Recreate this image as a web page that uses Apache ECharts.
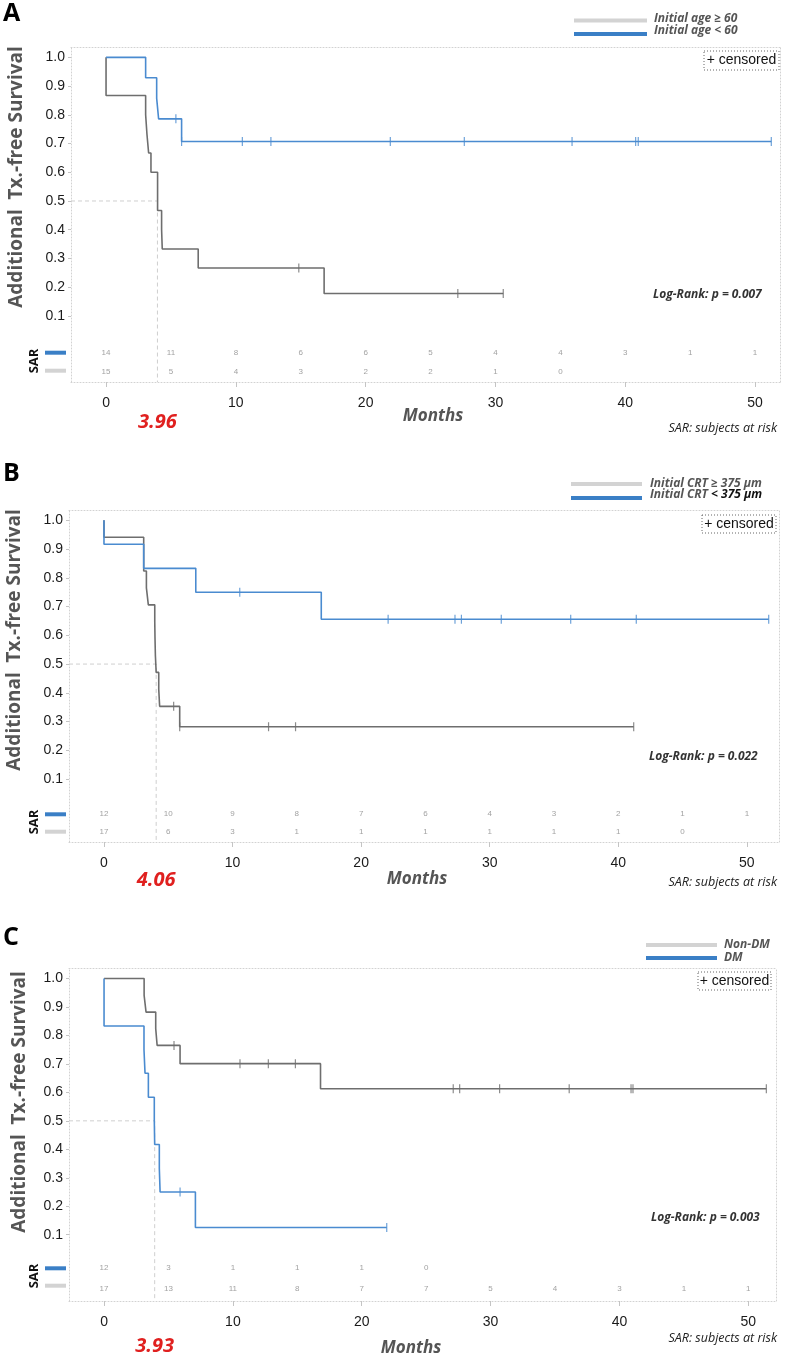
<!DOCTYPE html>
<html><head><meta charset="utf-8">
<script src="https://cdn.jsdelivr.net/npm/echarts@6/dist/echarts.min.js"></script>
<style>html,body{margin:0;padding:0;background:#fff}#c{width:787px;height:1360px}</style>
</head><body><div id="c"></div>
<script>
// ---------- shared ----------
const sarTimes = [0,5,10,15,20,25,30,35,40,45,50];
const xTickLabels = [0,10,20,30,40,50];
const yTickLabels = [0.1,0.2,0.3,0.4,0.5,0.6,0.7,0.8,0.9,1.0];

// ---------- Panel A ----------
const A_names = ['Initial age \u2265 60', 'Initial age < 60'];
const A_grayT = [0,0,3.05,3.15,3.28,3.46,3.97,4.28,4.33,7.1,16.8,30.6];
const A_grayS = [1,0.867,0.8,0.733,0.667,0.6,0.467,0.4,0.333,0.267,0.178,0.178];
const A_grayCens = [14.85,27.1,30.6];
const A_blueT = [0,3.05,3.9,4.05,5.82,51.25];
const A_blueS = [1,0.929,0.857,0.786,0.707,0.707];
const A_blueCens = [5.38,5.82,10.5,12.7,21.9,27.6,35.9,40.8,41.0,51.25];
const A_sarBlue = [14,11,8,6,6,5,4,4,3,1,1];
const A_sarGray = [15,5,4,3,2,2,1,0];
const A_median = 3.96;
const A_p = 'Log-Rank: p = 0.007';

// ---------- Panel B ----------
const B_names = ['Initial CRT \u2265 375 \u00b5m', 'Initial CRT < 375 \u00b5m'];
const B_grayT = [0,0,3.09,3.3,3.45,3.95,3.97,4.0,4.06,4.26,4.33,5.89,41.2];
const B_grayS = [1,0.941,0.824,0.765,0.706,0.647,0.588,0.529,0.471,0.412,0.353,0.282,0.282];
const B_grayCens = [5.42,5.89,12.8,14.9,41.2];
const B_blueT = [0,0,3.09,7.14,16.9,51.7];
const B_blueS = [1,0.917,0.833,0.75,0.656,0.656];
const B_blueCens = [10.56,22.1,27.3,27.8,30.9,36.3,41.4,51.7];
const B_sarBlue = [12,10,9,8,7,6,4,3,2,1,1];
const B_sarGray = [17,6,3,1,1,1,1,1,1,0];
const B_median = 4.06;
const B_p = 'Log-Rank: p = 0.022';

// ---------- Panel C ----------
const C_names = ['Non-DM', 'DM'];
const C_grayT = [0,3.11,3.26,4.01,4.12,5.9,16.8,51.4];
const C_grayS = [1,0.941,0.882,0.824,0.765,0.701,0.613,0.613];
const C_grayCens = [5.43,10.55,12.75,14.85,27.1,27.6,30.7,36.1,40.9,41.05,51.4];
const C_blueT = [0,0,3.1,3.18,3.44,3.9,3.93,4.29,4.35,7.09,21.94];
const C_blueS = [1,0.833,0.75,0.667,0.583,0.5,0.417,0.333,0.25,0.125,0.125];
const C_blueCens = [5.9,21.94];
const C_sarBlue = [12,3,1,1,1,0];
const C_sarGray = [17,13,11,8,7,7,5,4,3,1,1];
const C_median = 3.93;
const C_p = 'Log-Rank: p = 0.003';

// ---------- layout (styles only) ----------
const panels = [
  {letter:'A', names:A_names, gT:A_grayT, gS:A_grayS, gC:A_grayCens, bT:A_blueT, bS:A_blueS, bC:A_blueCens,
   sarB:A_sarBlue, sarG:A_sarGray, med:A_median, p:A_p,
   grid:{left:71, top:47, width:709, height:335}, xr:[-2.70,51.92], yr:[-0.130,1.036], sarRows:[-0.028,-0.094],
   letterY:14, legBar:[574,647], legBarY:[20.5,34], legTx:654, legTy:[19,31], cens:[704,51,75,19], pTxt:[653,295],
   yTitle:[17,177], sarLab:[34,361], sarBars:[352.7,370.7], months:[433,416], note:[777,428], medY:422.5},
  {letter:'B', names:B_names, gT:B_grayT, gS:B_grayS, gC:B_grayCens, bT:B_blueT, bS:B_blueS, bC:B_blueCens,
   sarB:B_sarBlue, sarG:B_sarGray, med:B_median, p:B_p,
   grid:{left:69, top:510, width:710, height:332}, xr:[-2.72,52.5], yr:[-0.119,1.036], sarRows:[-0.022,-0.082],
   letterY:474, legBar:[571,642], legBarY:[484,498], legTx:650, legTy:[484,495], cens:[702,515,74,18], pTxt:[649,757],
   yTitle:[15,640], sarLab:[34,822], sarBars:[814.3,831.7], months:[417,879], note:[777,882], medY:880},
  {letter:'C', names:C_names, gT:C_grayT, gS:C_grayS, gC:C_grayCens, bT:C_blueT, bS:C_blueS, bC:C_blueCens,
   sarB:C_sarBlue, sarG:C_sarGray, med:C_median, p:C_p,
   grid:{left:69, top:968, width:707, height:333}, xr:[-2.72,52.15], yr:[-0.133,1.037], sarRows:[-0.018,-0.09],
   letterY:938, legBar:[646,717], legBarY:[945,958], legTx:724, legTy:[945,957.5], cens:[698,972,73,18], pTxt:[651,1218],
   yTitle:[20,1102], sarLab:[34,1276], sarBars:[1268.3,1285.7], months:[411,1348], note:[777,1338], medY:1346}
];

const GRAY = '#6e6e6e', BLUE = '#4a8bd0', LEG_GRAY = '#d3d3d3', LEG_BLUE = '#3a7fc6';
const FRAME = '#d2d2d2';
const TICKF = 'Liberation Sans, Arial, sans-serif';
const OPEN = '"Open Sans", "Noto Sans", sans-serif';

function survAt(T, S, t){ let v = S[0]; for (let i=0;i<T.length;i++){ if (T[i] <= t + 1e-9) v = S[i]; } return v; }
function zip(T,S){ return T.map((t,i)=>[t,S[i]]); }

const grids=[], xAxes=[], yAxes=[], series=[], graphic=[];
panels.forEach((P,gi)=>{
  grids.push(Object.assign({containLabel:false}, P.grid));
  const dotted = {show:true, onZero:false, lineStyle:{color:FRAME, type:[1,2], width:1}};
  xAxes.push({type:'value', gridIndex:gi, min:P.xr[0], max:P.xr[1], position:'bottom',
    axisLine:dotted, splitLine:{show:false},
    axisTick:{show:true, customValues:xTickLabels, length:5, lineStyle:{color:'#c4c4c4'}},
    axisLabel:{customValues:xTickLabels, fontSize:14, color:'#1a1a1a', fontFamily:TICKF, margin:14}});
  xAxes.push({type:'value', gridIndex:gi, min:P.xr[0], max:P.xr[1], position:'top',
    axisLine:dotted, splitLine:{show:false}, axisTick:{show:false}, axisLabel:{show:false}});
  yAxes.push({type:'value', gridIndex:gi, min:P.yr[0], max:P.yr[1], position:'left',
    axisLine:dotted, splitLine:{show:false},
    axisTick:{show:true, customValues:yTickLabels, length:3, lineStyle:{color:'#c4c4c4'}},
    axisLabel:{customValues:yTickLabels, fontSize:14, color:'#1a1a1a', fontFamily:TICKF, margin:6,
      formatter:v=>Number(v).toFixed(1)}});
  yAxes.push({type:'value', gridIndex:gi, min:P.yr[0], max:P.yr[1], position:'right',
    axisLine:dotted, splitLine:{show:false}, axisTick:{show:false}, axisLabel:{show:false}});
  const xi = gi*2, yi = gi*2;
  // median guide
  series.push({type:'line', xAxisIndex:xi, yAxisIndex:yi, symbol:'none', silent:true, z:1,
    lineStyle:{color:'#cfcfcf', width:1, type:[4,3]},
    data:[[P.xr[0],0.5],[P.med,0.5],[P.med,P.yr[0]]]});
  // curves
  series.push({type:'line', xAxisIndex:xi, yAxisIndex:yi, step:'end', symbol:'none', z:3,
    lineStyle:{color:GRAY, width:1.6}, data:zip(P.gT,P.gS)});
  series.push({type:'line', xAxisIndex:xi, yAxisIndex:yi, step:'end', symbol:'none', z:4,
    lineStyle:{color:BLUE, width:1.6}, data:zip(P.bT,P.bS)});
  // censor ticks
  series.push({type:'scatter', xAxisIndex:xi, yAxisIndex:yi, symbol:'rect', symbolSize:[1.2,9], z:3,
    itemStyle:{color:GRAY}, data:P.gC.map(t=>[t,survAt(P.gT,P.gS,t)])});
  series.push({type:'scatter', xAxisIndex:xi, yAxisIndex:yi, symbol:'rect', symbolSize:[1.2,9], z:4,
    itemStyle:{color:BLUE}, data:P.bC.map(t=>[t,survAt(P.bT,P.bS,t)])});
  // subjects at risk
  const sarLabel = {show:true, position:'inside', formatter:p=>String(p.value[2]), fontSize:8, color:'#8a8a8a', fontFamily:TICKF};
  series.push({type:'scatter', xAxisIndex:xi, yAxisIndex:yi, symbolSize:1, itemStyle:{color:'rgba(0,0,0,0)'},
    label:sarLabel, data:P.sarB.map((n,i)=>[sarTimes[i],P.sarRows[0],n])});
  series.push({type:'scatter', xAxisIndex:xi, yAxisIndex:yi, symbolSize:1, itemStyle:{color:'rgba(0,0,0,0)'},
    label:sarLabel, data:P.sarG.map((n,i)=>[sarTimes[i],P.sarRows[1],n])});

  // ----- annotations -----
  graphic.push({type:'text', x:3, y:P.letterY, style:{text:P.letter, font:'bold 25px '+OPEN, fill:'#000', verticalAlign:'middle'}});
  // legend
  graphic.push({type:'line', shape:{x1:P.legBar[0], y1:P.legBarY[0], x2:P.legBar[1], y2:P.legBarY[0]}, style:{stroke:LEG_GRAY, lineWidth:4}});
  graphic.push({type:'line', shape:{x1:P.legBar[0], y1:P.legBarY[1], x2:P.legBar[1], y2:P.legBarY[1]}, style:{stroke:LEG_BLUE, lineWidth:4}});
  graphic.push({type:'text', x:P.legTx, y:P.legTy[0], style:{text:P.names[0], font:'italic bold 12px '+OPEN, fill:'#555', verticalAlign:'middle'}});
  if (P.letter==='B') {
    graphic.push({type:'text', x:P.legTx, y:P.legTy[1], style:{text:'{a|Initial CRT }{b|< 375 \u00b5m}', verticalAlign:'middle',
      rich:{a:{fontFamily:OPEN, fontSize:12, fontStyle:'italic', fontWeight:'bold', fill:'#555'},
            b:{fontFamily:OPEN, fontSize:12, fontStyle:'italic', fontWeight:'bold', fill:'#111'}}}});
  } else {
    graphic.push({type:'text', x:P.legTx, y:P.legTy[1], style:{text:P.names[1], font:'italic bold 12px '+OPEN, fill:'#555', verticalAlign:'middle'}});
  }
  // censored box
  graphic.push({type:'rect', shape:{x:P.cens[0], y:P.cens[1], width:P.cens[2], height:P.cens[3]},
    style:{fill:'#fff', stroke:'#666', lineWidth:1, lineDash:[1,2]}});
  graphic.push({type:'text', x:P.cens[0]+P.cens[2]/2, y:P.cens[1]+P.cens[3]/2,
    style:{text:'+ censored', font:'14px '+TICKF, fill:'#111', align:'center', verticalAlign:'middle'}});
  // log-rank
  graphic.push({type:'text', x:P.pTxt[0], y:P.pTxt[1], style:{text:P.p, font:'italic bold 12px '+OPEN, fill:'#333', verticalAlign:'middle'}});
  // y title
  graphic.push({type:'text', x:P.yTitle[0], y:P.yTitle[1], rotation:Math.PI/2,
    style:{text:'Additional  Tx.-free Survival', font:'bold 19px '+OPEN, fill:'#555', align:'center', verticalAlign:'middle'}});
  // SAR label and mini bars
  graphic.push({type:'text', x:P.sarLab[0], y:P.sarLab[1], rotation:Math.PI/2,
    style:{text:'SAR', font:'bold 13px '+OPEN, fill:'#111', align:'center', verticalAlign:'middle'}});
  graphic.push({type:'line', shape:{x1:45, y1:P.sarBars[0], x2:66, y2:P.sarBars[0]}, style:{stroke:LEG_BLUE, lineWidth:4}});
  graphic.push({type:'line', shape:{x1:45, y1:P.sarBars[1], x2:66, y2:P.sarBars[1]}, style:{stroke:LEG_GRAY, lineWidth:4}});
  // months
  graphic.push({type:'text', x:P.months[0], y:P.months[1], style:{text:'Months', font:'italic bold 17px '+OPEN, fill:'#555', align:'center', verticalAlign:'middle'}});
  graphic.push({type:'text', x:P.note[0], y:P.note[1], style:{text:'SAR: subjects at risk', font:'italic 12.5px '+OPEN, fill:'#222', align:'right', verticalAlign:'middle'}});
});

const chart = echarts.init(document.getElementById('c'), null, {renderer:'canvas'});
chart.setOption({animation:false, backgroundColor:'#fff', grid:grids, xAxis:xAxes, yAxis:yAxes, series:series, graphic:graphic});

// median labels positioned through the axis scale
const medG = panels.map((P,gi)=>{
  const px = chart.convertToPixel({xAxisIndex:gi*2}, P.med);
  return {type:'text', x:px, y:P.medY, style:{text:P.med.toFixed(2), font:'italic bold 20px '+OPEN, fill:'#e0201f', align:'center', verticalAlign:'middle'}};
});
chart.setOption({graphic:graphic.concat(medG)});
</script></body></html>
